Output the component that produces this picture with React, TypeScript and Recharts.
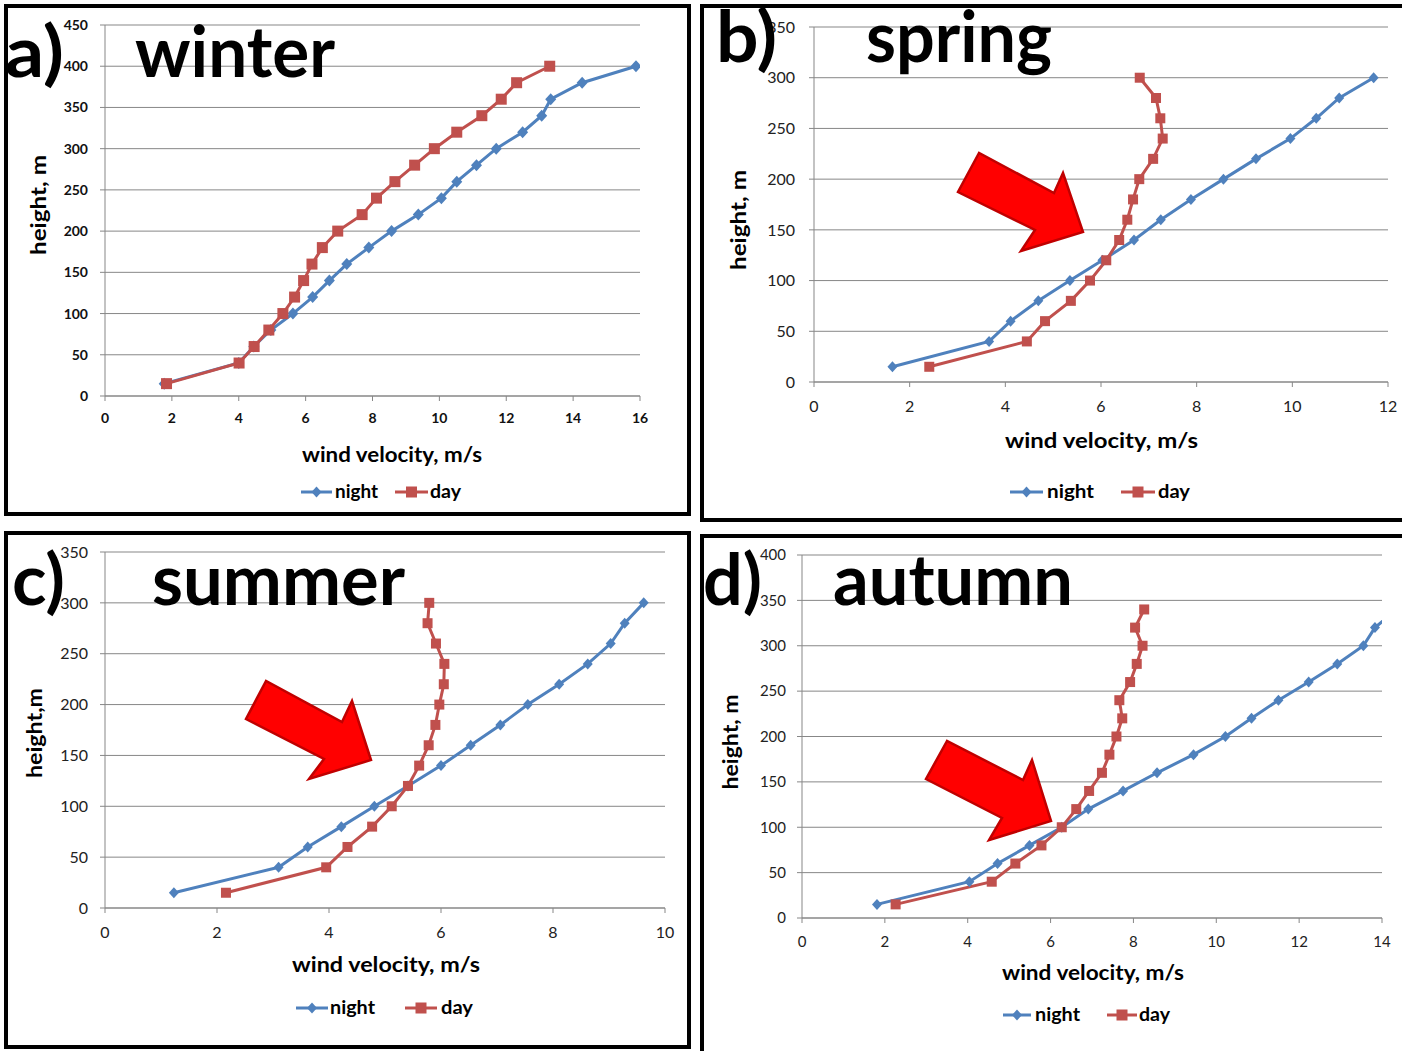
import { LineChart, Line, XAxis, YAxis, CartesianGrid } from "recharts";

const FONT = "Lato, 'Open Sans', sans-serif";
const BLUE = "#4F81BD";
const RED = "#C0504D";
const GRID = "#878787";

// winter
const winterHeights = [15, 40, 60, 80, 100, 120, 140, 160, 180, 200, 220, 240, 260, 280, 300, 320, 340, 360, 380, 400];
const winterNight = [1.77, 4.0, 4.45, 4.96, 5.62, 6.21, 6.71, 7.23, 7.89, 8.57, 9.37, 10.06, 10.52, 11.11, 11.7, 12.49, 13.06, 13.33, 14.27, 15.88];
const winterDay = [1.84, 4.01, 4.46, 4.9, 5.32, 5.67, 5.94, 6.19, 6.5, 6.96, 7.69, 8.12, 8.67, 9.26, 9.85, 10.52, 11.27, 11.85, 12.31, 13.3];

// spring
const springHeights = [15, 40, 60, 80, 100, 120, 140, 160, 180, 200, 220, 240, 260, 280, 300];
const springNight = [1.64, 3.66, 4.11, 4.69, 5.35, 6.03, 6.69, 7.25, 7.88, 8.56, 9.24, 9.96, 10.5, 10.98, 11.7];
const springDay = [2.41, 4.45, 4.83, 5.37, 5.77, 6.11, 6.38, 6.55, 6.67, 6.8, 7.09, 7.29, 7.24, 7.15, 6.81];

// summer
const summerHeights = [15, 40, 60, 80, 100, 120, 140, 160, 180, 200, 220, 240, 260, 280, 300];
const summerNight = [1.23, 3.1, 3.62, 4.22, 4.81, 5.41, 6.0, 6.53, 7.06, 7.55, 8.11, 8.62, 9.03, 9.28, 9.62];
const summerDay = [2.16, 3.95, 4.33, 4.77, 5.12, 5.41, 5.61, 5.78, 5.9, 5.97, 6.05, 6.06, 5.91, 5.76, 5.79];

// autumn
const autumnHeights = [15, 40, 60, 80, 100, 120, 140, 160, 180, 200, 220, 240, 260, 280, 300, 320, 340];
const autumnNight = [1.81, 4.04, 4.72, 5.49, 6.27, 6.91, 7.75, 8.57, 9.45, 10.22, 10.85, 11.5, 12.23, 12.92, 13.55, 13.83, 14.35];
const autumnDay = [2.26, 4.58, 5.15, 5.78, 6.27, 6.62, 6.93, 7.24, 7.42, 7.59, 7.73, 7.66, 7.92, 8.08, 8.22, 8.04, 8.26];

const xTicks16 = [0, 2, 4, 6, 8, 10, 12, 14, 16];
const xTicks12 = [0, 2, 4, 6, 8, 10, 12];
const xTicks10 = [0, 2, 4, 6, 8, 10];
const xTicks14 = [0, 2, 4, 6, 8, 10, 12, 14];
const yTicks450 = [0, 50, 100, 150, 200, 250, 300, 350, 400, 450];
const yTicks350 = [0, 50, 100, 150, 200, 250, 300, 350];
const yTicks400 = [0, 50, 100, 150, 200, 250, 300, 350, 400];

const zip = (hs: number[], vs: number[]) => hs.map((h, i) => ({ v: vs[i], h }));

type Panel = {
  box: { x: number; y: number; w: number; h: number };
  plot: { l: number; r: number; t: number; b: number };
  xMax: number;
  xTicks: number[];
  yMax: number;
  yTicks: number[];
  tickSize: number;
  tickWeight: number;
  tickFill: string;
  xGap: number;
  yGap: number;
  marker: number;
  night: { v: number; h: number }[];
  day: { v: number; h: number }[];
};

const panels: Panel[] = [
  {
    box: { x: 4, y: 4, w: 687, h: 512 },
    plot: { l: 105, r: 640, t: 25, b: 396 },
    xMax: 16, xTicks: xTicks16, yMax: 450, yTicks: yTicks450,
    tickSize: 14, tickWeight: 700, tickFill: "#111", xGap: 12, yGap: 12, marker: 11,
    night: zip(winterHeights, winterNight), day: zip(winterHeights, winterDay),
  },
  {
    box: { x: 700, y: 4, w: 702, h: 518 },
    plot: { l: 814, r: 1388, t: 27, b: 382 },
    xMax: 12, xTicks: xTicks12, yMax: 350, yTicks: yTicks350,
    tickSize: 16, tickWeight: 400, tickFill: "#222", xGap: 14, yGap: 14, marker: 10,
    night: zip(springHeights, springNight), day: zip(springHeights, springDay),
  },
  {
    box: { x: 4, y: 531, w: 687, h: 518 },
    plot: { l: 105, r: 665, t: 552, b: 908 },
    xMax: 10, xTicks: xTicks10, yMax: 350, yTicks: yTicks350,
    tickSize: 16, tickWeight: 400, tickFill: "#222", xGap: 14, yGap: 12, marker: 10,
    night: zip(summerHeights, summerNight), day: zip(summerHeights, summerDay),
  },
  {
    box: { x: 700, y: 534, w: 702, h: 517 },
    plot: { l: 802, r: 1382, t: 555, b: 918 },
    xMax: 14, xTicks: xTicks14, yMax: 400, yTicks: yTicks400,
    tickSize: 15, tickWeight: 400, tickFill: "#222", xGap: 13, yGap: 11, marker: 10,
    night: zip(autumnHeights, autumnNight), day: zip(autumnHeights, autumnDay),
  },
];

const diamond = (size: number) => (props: any) => {
  const { cx, cy, index } = props;
  if (cx == null || cy == null) return <g key={`n${index}`} />;
  const r = size / 2;
  return (
    <path
      key={`n${index}`}
      d={`M${cx},${cy - r - 0.5}L${cx + r},${cy}L${cx},${cy + r + 0.5}L${cx - r},${cy}Z`}
      fill={BLUE}
    />
  );
};

const square = (size: number) => (props: any) => {
  const { cx, cy, index } = props;
  if (cx == null || cy == null) return <g key={`d${index}`} />;
  return <rect key={`d${index}`} x={cx - size / 2} y={cy - size / 2} width={size} height={size} fill={RED} />;
};

function SeasonChart({ p }: { p: Panel }) {
  const yW = 60;
  const xH = 40;
  const margin = {
    top: p.plot.t - p.box.y,
    left: p.plot.l - p.box.x - yW,
    right: p.box.x + p.box.w - p.plot.r,
    bottom: p.box.y + p.box.h - p.plot.b - xH,
  };
  const tick = { fill: p.tickFill, fontSize: p.tickSize, fontWeight: p.tickWeight, fontFamily: FONT };
  return (
    <div style={{ position: "absolute", left: p.box.x, top: p.box.y }}>
      <LineChart width={p.box.w} height={p.box.h} margin={margin}>
        <CartesianGrid vertical={false} stroke={GRID} />
        <XAxis
          type="number"
          dataKey="v"
          domain={[0, p.xMax]}
          ticks={p.xTicks}
          interval={0}
          allowDataOverflow
          height={xH}
          stroke={GRID}
          tickSize={5}
          tickMargin={p.xGap}
          tick={tick}
        />
        <YAxis
          type="number"
          dataKey="h"
          domain={[0, p.yMax]}
          ticks={p.yTicks}
          interval={0}
          allowDataOverflow
          width={yW}
          stroke={GRID}
          tickSize={5}
          tickMargin={p.yGap}
          tick={tick}
        />
        <Line
          data={p.night}
          dataKey="h"
          stroke={BLUE}
          strokeWidth={3}
          dot={diamond(p.marker)}
          activeDot={false}
          isAnimationActive={false}
        />
        <Line
          data={p.day}
          dataKey="h"
          stroke={RED}
          strokeWidth={3}
          dot={square(p.marker)}
          activeDot={false}
          isAnimationActive={false}
        />
      </LineChart>
    </div>
  );
}

function LegendItem({ x1, x2, y, tx, tw, label, kind }: any) {
  const cx = (x1 + x2) / 2;
  return (
    <g>
      <line x1={x1} x2={x2} y1={y} y2={y} stroke={kind === "n" ? BLUE : RED} strokeWidth={3} />
      {kind === "n" ? (
        <path d={`M${cx},${y - 5.5}L${cx + 5},${y}L${cx},${y + 5.5}L${cx - 5},${y}Z`} fill={BLUE} />
      ) : (
        <rect x={cx - 5.5} y={y - 5.5} width={11} height={11} fill={RED} />
      )}
      <text x={tx} y={y + 6} fontSize={19} fontWeight={700} fill="#000" textLength={tw} lengthAdjust="spacingAndGlyphs">
        {label}
      </text>
    </g>
  );
}

function Arrow({ pts }: { pts: string }) {
  return <polygon points={pts} fill="#FF0000" stroke="#C00000" strokeWidth={2.5} strokeLinejoin="miter" />;
}

export default function App() {
  return (
    <div style={{ position: "absolute", left: 0, top: 0, width: 1402, height: 1051, overflow: "hidden", background: "#fff", fontFamily: FONT }}>
      {panels.map((p, i) => (
        <SeasonChart key={i} p={p} />
      ))}
      <svg width={1402} height={1051} style={{ position: "absolute", left: 0, top: 0, pointerEvents: "none" }} fontFamily={FONT}>
        {/* panel frames */}
        <rect x={6} y={6} width={683} height={508} fill="none" stroke="#000" strokeWidth={4} />
        <rect x={702} y={6} width={720} height={514} fill="none" stroke="#000" strokeWidth={4} />
        <rect x={6} y={533} width={683} height={514} fill="none" stroke="#000" strokeWidth={4} />
        <rect x={702} y={536} width={720} height={520} fill="none" stroke="#000" strokeWidth={4} />

        {/* arrows */}
        <Arrow pts="979,153 958,192 1035,230 1021,251 1083,232 1063,173 1054,193" />
        <Arrow pts="266,681 246,719 324,759 309,779 371,760 352,701 342,722" />
        <Arrow pts="947,741 926,779 1002,818 989,840 1051,821 1032,760 1023,780" />

        {/* panel labels */}
        <g fontSize={70} fontWeight={700} fill="#000">
          <text x={5} y={77} textLength={59} lengthAdjust="spacingAndGlyphs">a)</text>
          <text x={135} y={77} textLength={200} lengthAdjust="spacingAndGlyphs">winter</text>
          <text x={716} y={62} textLength={61} lengthAdjust="spacingAndGlyphs">b)</text>
          <text x={866} y={62} textLength={186} lengthAdjust="spacingAndGlyphs">spring</text>
          <text x={12} y={605} textLength={53} lengthAdjust="spacingAndGlyphs">c)</text>
          <text x={152} y={605} textLength={253} lengthAdjust="spacingAndGlyphs">summer</text>
          <text x={703} y={605} textLength={59} lengthAdjust="spacingAndGlyphs">d)</text>
          <text x={833} y={605} textLength={240} lengthAdjust="spacingAndGlyphs">autumn</text>
        </g>

        {/* axis titles */}
        <g fontSize={20} fontWeight={700} fill="#000">
          <text x={302} y={462} textLength={180} lengthAdjust="spacingAndGlyphs">wind velocity, m/s</text>
          <text x={1005} y={448} textLength={193} lengthAdjust="spacingAndGlyphs">wind velocity, m/s</text>
          <text x={292} y={972} textLength={188} lengthAdjust="spacingAndGlyphs">wind velocity, m/s</text>
          <text x={1002} y={980} textLength={182} lengthAdjust="spacingAndGlyphs">wind velocity, m/s</text>
          <text transform="translate(46,205) rotate(-90)" textAnchor="middle" textLength={100} lengthAdjust="spacingAndGlyphs">height, m</text>
          <text transform="translate(746,220) rotate(-90)" textAnchor="middle" textLength={100} lengthAdjust="spacingAndGlyphs">height, m</text>
          <text transform="translate(42,733) rotate(-90)" textAnchor="middle" textLength={90} lengthAdjust="spacingAndGlyphs">height,m</text>
          <text transform="translate(738,742) rotate(-90)" textAnchor="middle" textLength={95} lengthAdjust="spacingAndGlyphs">height, m</text>
        </g>

        {/* legends */}
        <LegendItem x1={301} x2={332} y={492} tx={335} tw={43} label="night" kind="n" />
        <LegendItem x1={395} x2={428} y={492} tx={430} tw={31} label="day" kind="d" />
        <LegendItem x1={1010} x2={1043} y={492} tx={1047} tw={47} label="night" kind="n" />
        <LegendItem x1={1121} x2={1155} y={492} tx={1158} tw={32} label="day" kind="d" />
        <LegendItem x1={296} x2={328} y={1008} tx={330} tw={45} label="night" kind="n" />
        <LegendItem x1={405} x2={437} y={1008} tx={441} tw={32} label="day" kind="d" />
        <LegendItem x1={1003} x2={1031} y={1015} tx={1035} tw={45} label="night" kind="n" />
        <LegendItem x1={1107} x2={1137} y={1015} tx={1139} tw={31} label="day" kind="d" />
      </svg>
    </div>
  );
}
